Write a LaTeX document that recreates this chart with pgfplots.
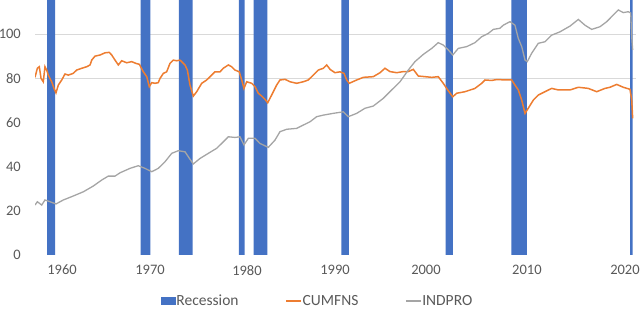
\documentclass[border=0pt]{standalone}
\usepackage{fontspec}
\setmainfont{Carlito}
\usepackage{pgfplots}
\pgfplotsset{compat=1.18}
\definecolor{recblue}{HTML}{4472C4}
\definecolor{cuorange}{HTML}{ED7D31}
\definecolor{ipgray}{HTML}{A5A5A5}
\definecolor{txtgray}{HTML}{595959}
\definecolor{gridgray}{HTML}{D9D9D9}
\begin{document}
\begin{tikzpicture}
\useasboundingbox (0bp,0bp) rectangle (640bp,309bp);
\begin{axis}[
  at={(35bp,54bp)}, anchor=south west,
  scale only axis, width=601bp, height=255bp,
  xmin=1959.1, xmax=2020.68, ymin=0, ymax=115.4,
  axis line style={draw=none},
  major tick length=0pt,
  ytick={0,20,40,60,80,100},
  xtick={1961.87,1970.89,1980.82,1989.84,1999.16,2009.5,2019.55},
  xticklabels={1960,1970,1980,1990,2000,2010,2020},
  extra y ticks={80,100}, extra y tick labels={},
  extra y tick style={grid=major, major grid style={gridgray, line width=1bp}},
  /pgf/number format/assume math mode=true,
  tick label style={font=\fontsize{14.5bp}{17bp}\selectfont, text=txtgray},
  yticklabel style={anchor=east, inner sep=0pt, xshift=-14bp},
  xticklabel style={anchor=north, inner sep=0pt, yshift=-10bp},
  legend style={at={(0.469,-0.180)}, anchor=center, draw=none, fill=none,
    font=\fontsize{15.5bp}{17bp}\selectfont, text=txtgray,
    /tikz/every even column/.append style={column sep=46bp},
    nodes={inner sep=0.8bp}},
  legend columns=3, legend cell align=left,
]
\addplot[const plot mark left, fill=recblue, draw=none,
  legend image code/.code={\fill[recblue] (0bp,-4bp) rectangle (15bp,4bp);}]
coordinates {(1959.0,0) (1960.33,120) (1961.17,0) (1969.92,120) (1970.92,0)
 (1973.83,120) (1975.25,0) (1980.0,120) (1980.58,0) (1981.5,120) (1982.92,0)
 (1990.5,120) (1991.25,0) (2001.17,120) (2001.92,0) (2007.92,120) (2009.5,0)
 (2020.08,120) (2020.33,0) (2020.8,0)} \closedcycle;
\addlegendentry{Recession}
\addplot[cuorange, line width=1.5bp,
  legend image code/.code={\draw[cuorange, line width=1.5bp] (0bp,0bp) -- (15bp,0bp);}]
coordinates {
(1959.10,80.4) (1959.34,84.5) (1959.54,85.2) (1959.72,79.9) (1959.95,78.4)
(1960.12,85.2) (1960.30,83.7) (1960.46,81.4) (1960.81,78.4) (1961.05,75.4)
(1961.25,73.4) (1961.49,76.9) (1961.84,79.2) (1962.17,81.9) (1962.51,81.4)
(1963.02,82.2) (1963.37,83.7) (1963.89,84.5) (1964.40,85.2) (1964.74,86.0)
(1964.91,88.2) (1965.25,90.0) (1965.76,90.5) (1966.27,91.5) (1966.71,91.7)
(1966.96,90.5) (1967.30,88.2) (1967.64,86.0) (1967.98,87.9) (1968.50,87.0)
(1969.01,87.5) (1969.45,86.7) (1969.79,86.3) (1970.20,82.9) (1970.55,80.7)
(1970.81,76.2) (1971.06,78.0) (1971.40,77.7) (1971.73,78.0) (1971.91,79.9)
(1972.25,82.2) (1972.59,82.9) (1972.93,86.7) (1973.27,88.2) (1973.62,87.9)
(1973.96,88.2) (1974.47,86.0) (1974.71,83.7) (1974.98,76.9) (1975.32,71.9)
(1975.67,73.9) (1976.18,77.7) (1976.69,79.2) (1977.20,81.4) (1977.54,82.9)
(1978.06,82.9) (1978.39,84.5) (1978.91,86.0) (1979.25,85.2) (1979.59,83.7)
(1980.03,82.9) (1980.28,79.2) (1980.51,75.4) (1980.79,78.4) (1981.30,77.7)
(1981.64,76.2) (1981.98,73.2) (1982.33,71.9) (1982.67,70.4) (1982.94,68.9)
(1983.35,72.4) (1983.86,76.9) (1984.20,79.2) (1984.72,79.5) (1985.23,78.4)
(1985.91,77.7) (1986.59,78.4) (1987.10,79.2) (1987.61,81.4) (1988.13,83.7)
(1988.64,84.5) (1988.99,86.0) (1989.33,84.0) (1989.84,82.5) (1990.35,82.9)
(1990.76,82.2) (1991.04,79.2) (1991.30,77.7) (1992.06,79.2) (1992.74,80.4)
(1993.76,80.7) (1994.45,82.5) (1994.96,84.5) (1995.47,83.0) (1996.16,82.5)
(1996.84,83.0) (1997.35,83.0) (1997.86,84.0) (1998.37,81.0) (1999.06,80.7)
(1999.75,80.4) (2000.42,80.7) (2000.93,77.7) (2001.45,74.3) (2001.90,71.6)
(2002.31,73.2) (2003.16,73.9) (2004.18,75.4) (2004.87,77.7) (2005.21,79.2)
(2005.89,79.0) (2006.41,79.4) (2007.43,79.2) (2007.94,79.2) (2008.28,76.9)
(2008.62,74.7) (2008.97,70.1) (2009.31,64.1) (2009.64,66.4) (2010.16,70.1)
(2010.67,72.4) (2011.35,73.9) (2012.04,75.4) (2012.72,74.7) (2013.92,74.7)
(2014.77,75.9) (2015.79,75.4) (2016.65,73.9) (2017.50,75.4) (2018.01,75.9)
(2018.70,77.2) (2019.38,75.9) (2020.06,75.0) (2020.24,70.1) (2020.34,61.8)
};
\addlegendentry{CUMFNS}
\addplot[ipgray, line width=1.3bp,
  legend image code/.code={\draw[ipgray, line width=1.3bp] (0bp,0bp) -- (15bp,0bp);}]
coordinates {
(1959.10,22.6) (1959.34,24.1) (1959.79,22.6) (1960.12,24.9) (1960.64,24.1)
(1961.25,23.1) (1962.00,24.9) (1963.02,26.7) (1964.05,28.6) (1965.07,31.2)
(1965.93,33.9) (1966.61,35.7) (1967.30,35.7) (1967.81,37.2) (1968.83,39.2)
(1969.68,40.4) (1970.37,39.2) (1971.06,37.7) (1971.73,39.2) (1972.42,42.2)
(1973.11,46.0) (1973.78,47.2) (1974.47,46.7) (1974.91,43.8) (1975.32,41.2)
(1976.01,43.7) (1976.86,46.0) (1977.72,48.3) (1978.23,50.5) (1978.91,53.5)
(1979.59,53.2) (1980.10,53.5) (1980.51,49.8) (1980.96,52.8) (1981.64,52.8)
(1982.15,50.5) (1983.00,48.7) (1983.69,52.0) (1984.20,55.8) (1984.89,56.9)
(1985.91,57.3) (1986.59,58.8) (1987.28,60.3) (1987.96,62.6) (1988.64,63.3)
(1989.66,64.1) (1990.69,64.8) (1991.20,62.6) (1992.06,64.1) (1992.91,66.4)
(1993.76,67.4) (1994.79,70.9) (1995.65,74.7) (1996.50,78.4) (1997.35,83.7)
(1998.03,87.5) (1998.89,90.8) (1999.75,93.5) (2000.42,96.1) (2000.93,95.0)
(2001.45,92.8) (2001.90,90.5) (2002.47,93.5) (2003.33,94.3) (2004.18,96.1)
(2004.87,98.8) (2005.55,100.3) (2006.06,102.1) (2006.74,102.6) (2007.08,104.0)
(2007.77,105.6) (2008.28,104.0) (2008.62,98.0) (2008.97,94.3) (2009.31,88.2)
(2009.54,87.5) (2009.99,91.3) (2010.67,95.8) (2011.35,96.5) (2012.04,99.5)
(2012.89,101.0) (2013.92,103.6) (2014.77,106.6) (2015.45,104.0) (2016.14,102.1)
(2016.99,103.3) (2017.68,105.6) (2018.35,108.6) (2018.86,110.9) (2019.38,109.7)
(2019.89,110.1) (2020.14,109.5) (2020.24,98.8) (2020.34,92.8)
};
\addlegendentry{INDPRO}
\end{axis}
\end{tikzpicture}
\end{document}
